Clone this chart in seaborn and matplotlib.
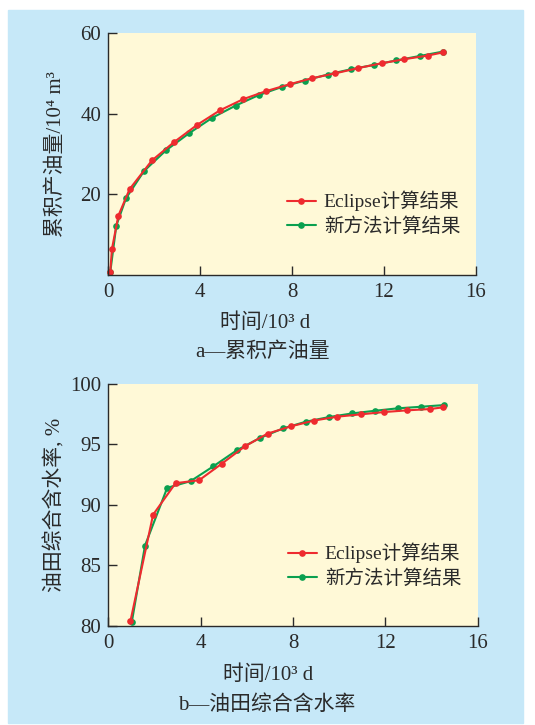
import matplotlib
matplotlib.use("Agg")
import matplotlib.pyplot as plt
from matplotlib.patches import Rectangle
import seaborn as sns

# -------------------------
# Data
# -------------------------
# a: cumulative oil production, 10^4 m^3 vs time, 10^3 d
oil_t_eclipse = [0.1, 0.17, 0.45, 0.94, 1.91, 2.86, 3.87, 4.86, 5.88, 6.88, 7.9,
                 8.88, 9.88, 10.88, 11.9, 12.88, 13.9, 14.57]
oil_eclipse = [0.8, 6.4, 14.7, 21.3, 28.4, 32.9, 37.2, 40.8, 43.6, 45.6, 47.3,
               48.8, 50.0, 51.3, 52.5, 53.5, 54.4, 55.2]
oil_t_new = [0.1, 0.36, 0.78, 1.57, 2.52, 3.54, 4.54, 5.55, 6.55, 7.55, 8.55,
             9.55, 10.55, 11.57, 12.54, 13.55, 14.57]
oil_new = [0.8, 12.2, 19.0, 25.8, 30.9, 35.2, 39.0, 42.0, 44.6, 46.6, 48.2,
           49.7, 51.0, 52.1, 53.2, 54.3, 55.4]

# b: field water cut, % vs time, 10^3 d
wc_t_eclipse = [0.97, 1.95, 2.92, 3.94, 4.91, 5.92, 6.9, 7.91, 8.91, 9.92,
                10.92, 11.93, 12.91, 13.92, 14.48]
wc_eclipse = [80.4, 89.2, 91.8, 92.05, 93.4, 94.85, 95.9, 96.5, 96.98, 97.3,
              97.49, 97.68, 97.82, 97.93, 98.07]
wc_t_new = [1.03, 1.6, 2.56, 3.57, 4.55, 5.56, 6.56, 7.57, 8.55, 9.56,
            10.56, 11.55, 12.53, 13.55, 14.54]
wc_new = [80.33, 86.65, 91.42, 91.97, 93.19, 94.51, 95.53, 96.33, 96.88, 97.27,
          97.57, 97.79, 97.99, 98.12, 98.26]

x_ticks = [0, 4, 8, 12, 16]
oil_ticks = [20, 40, 60]
wc_ticks = [80, 85, 90, 95, 100]

label_eclipse = "Eclipse计算结果"
label_new = "新方法计算结果"

# -------------------------
# Style
# -------------------------
sns.set_style("ticks")
FAMILY = ["Liberation Serif", "Noto Sans CJK SC", "DejaVu Sans"]
plt.rcParams["font.family"] = FAMILY
plt.rcParams["axes.unicode_minus"] = False

RED = "#ee2b2f"
GREEN = "#0aa04f"
BLUE_BG = "#c6e8f8"
YELLOW = "#fff9d7"
INK = "#2a2a2a"

W, H = 535, 725
fig = plt.figure(figsize=(W / 100, H / 100), dpi=100, facecolor="white")
fig.patches.append(Rectangle((8 / W, 1 - 723 / H), 515 / W, 713 / H,
                             transform=fig.transFigure, color=BLUE_BG, zorder=-10))


def px_axes(left, top, right, bottom):
    return fig.add_axes([left / W, 1 - bottom / H, (right - left) / W, (bottom - top) / H])


def style_axes(ax, yticks, ylim, ylabel):
    ax.set_facecolor(YELLOW)
    ax.set_xlim(0, 16)
    ax.set_ylim(*ylim)
    ax.set_xticks(x_ticks)
    ax.set_yticks(yticks)
    sns.despine(ax=ax)
    for s in ["left", "bottom"]:
        ax.spines[s].set_color(INK)
        ax.spines[s].set_linewidth(1.0)
    ax.tick_params(direction="in", length=6.5, width=1.0, color=INK,
                   labelsize=15, labelcolor=INK)
    ax.tick_params(axis="x", pad=6)
    ax.tick_params(axis="y", pad=5)
    ax.set_xlabel("")
    ax.set_ylabel(ylabel, fontsize=15, color=INK)


def add_legend(ax, y_center):
    h, l = ax.get_legend_handles_labels()
    order = [l.index(label_eclipse), l.index(label_new)]
    leg = ax.legend([h[i] for i in order], [l[i] for i in order],
                    loc="center left", bbox_to_anchor=(0.486, y_center),
                    frameon=False, fontsize=14, handlelength=1.5,
                    handletextpad=0.4, labelspacing=0.32, borderpad=0,
                    borderaxespad=0)
    for t in leg.get_texts():
        t.set_color(INK)


def draw(ax, tx, ty, color, label):
    sns.lineplot(x=tx, y=ty, ax=ax, color=color, lw=1.5, marker="o",
                 markersize=4.8, markeredgewidth=0, sort=False, label=label,
                 clip_on=False)


# -------------------------
# a: cumulative oil
# -------------------------
ax1 = px_axes(108, 33, 476, 275)
draw(ax1, oil_t_new, oil_new, GREEN, label_new)
draw(ax1, oil_t_eclipse, oil_eclipse, RED, label_eclipse)
style_axes(ax1, oil_ticks, (0, 60), "累积产油量/10⁴ m³")
add_legend(ax1, 0.254)

fig.text(265 / W, 1 - 323 / H, "时间/10³ d", ha="center", va="center",
         fontsize=15, color=INK)
fig.text(263 / W, 1 - 352 / H, "a—累积产油量", ha="center", va="center",
         fontsize=15, color=INK)

# -------------------------
# b: water cut
# -------------------------
ax2 = px_axes(108, 384, 478, 626)
draw(ax2, wc_t_new, wc_new, GREEN, label_new)
draw(ax2, wc_t_eclipse, wc_eclipse, RED, label_eclipse)
style_axes(ax2, wc_ticks, (80, 100), "油田综合含水率, %")
add_legend(ax2, 0.25)

fig.text(268 / W, 1 - 675 / H, "时间/10³ d", ha="center", va="center",
         fontsize=15, color=INK)
fig.text(267 / W, 1 - 705 / H, "b—油田综合含水率", ha="center", va="center",
         fontsize=15, color=INK)

# align y labels: label's right (bottom) edge near x = 66 px
for ax in (ax1, ax2):
    ax.yaxis.set_label_coords(-(108 - 66) / (ax.get_position().width * W), 0.5)

fig.savefig("out.png", dpi=100, facecolor="white")
